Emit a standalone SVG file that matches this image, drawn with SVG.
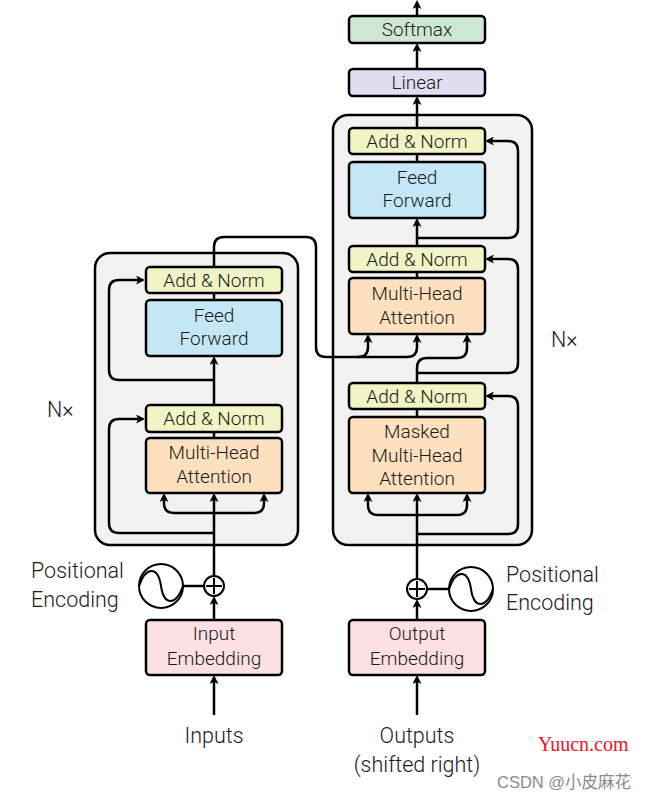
<svg xmlns="http://www.w3.org/2000/svg" width="648" height="800" viewBox="0 0 648 800">
<style>
.bg{fill:#ffffff}
.outer{fill:#f2f2f2;stroke:#000;stroke-width:2.5}
.box{stroke:#000;stroke-width:2.5}
.an{fill:#f1f4c4}
.ff{fill:#c4e7f6}
.mha{fill:#fde1be}
.emb{fill:#fde0e3}
.lin{fill:#dedff1}
.sm{fill:#cde8d2}
.t{font-family:Roboto,"Liberation Sans",sans-serif;font-weight:300;font-size:19px;fill:#1a1a1a;text-anchor:middle}
.lbl{font-family:Roboto,"Liberation Sans",sans-serif;font-weight:300;font-size:21.5px;fill:#1a1a1a}
.c{fill:none;stroke:#000;stroke-width:2.5}
.a{marker-end:url(#arr)}
.pe{fill:#fff;stroke:#000;stroke-width:2}
</style>
<defs>
<marker id="arr" viewBox="0 0 10 10" refX="5.5" refY="5" markerWidth="9" markerHeight="9" markerUnits="userSpaceOnUse" orient="auto">
<path d="M0,0 L10,5 L0,10 L2.5,5 Z" fill="#000"/>
</marker>
</defs>
<rect class="bg" x="0" y="0" width="648" height="800"/>

<g id="encoder-stack">
<rect class="outer" x="95" y="253" width="203" height="292" rx="15"/>
</g>
<g id="decoder-stack">
<rect class="outer" x="333" y="115" width="199" height="430" rx="15"/>
</g>

<g id="connectors">
<!-- encoder -->
<path class="c a" d="M214,715 V679"/>
<path class="c a" d="M214,620 V600"/>
<path class="c" d="M183,586 H204"/>
<path class="c a" d="M214,576 V497"/>
<path class="c a" d="M214,513 H174 Q164,513 164,503 V497"/>
<path class="c a" d="M214,513 H254 Q264,513 264,503 V497"/>
<path class="c a" d="M214,533 H119 Q109,533 109,523 V429 Q109,419 119,419 H141"/>
<path class="c" d="M214,432 V438"/>
<path class="c a" d="M214,405 V360"/>
<path class="c a" d="M214,380 H119 Q109,380 109,370 V290 Q109,280 119,280 H141"/>
<path class="c" d="M214,293 V300"/>
<path class="c a" d="M214,267 V247 Q214,237 224,237 H306 Q316,237 316,247 V347 Q316,357 326,357 H358 Q368,357 368,347 V338"/>
<path class="c a" d="M358,357 H407 Q417,357 417,347 V338"/>
<!-- decoder -->
<path class="c a" d="M417,715 V679"/>
<path class="c a" d="M417,620 V603"/>
<path class="c" d="M427,589 H449"/>
<path class="c a" d="M417,579 V497"/>
<path class="c a" d="M417,515 H378 Q368,515 368,505 V497"/>
<path class="c a" d="M417,515 H457 Q467,515 467,505 V497"/>
<path class="c a" d="M417,534 H508 Q518,534 518,524 V406 Q518,396 508,396 H489"/>
<path class="c" d="M417,409 V417"/>
<path class="c a" d="M417,383 V368 Q417,358 427,358 H457 Q467,358 467,348 V338"/>
<path class="c a" d="M417,373 H508 Q518,373 518,363 V269 Q518,259 508,259 H489"/>
<path class="c" d="M417,272 V278"/>
<path class="c a" d="M417,246 V222"/>
<path class="c a" d="M417,238 H508 Q518,238 518,228 V151 Q518,141 508,141 H489"/>
<path class="c" d="M417,154 V162"/>
<path class="c a" d="M417,128 V100"/>
<path class="c a" d="M417,69 V47"/>
<path class="c a" d="M417,16 V4"/>
</g>

<g id="enc-add-norm-2">
<rect class="box an" x="146" y="267" width="136" height="26" rx="4"/>
<text class="t" x="214" y="287">Add &amp; Norm</text>
</g>
<g id="enc-feed-forward">
<rect class="box ff" x="146" y="300" width="136" height="56" rx="4"/>
<text class="t" x="214" y="322">Feed</text>
<text class="t" x="214" y="345">Forward</text>
</g>
<g id="enc-add-norm-1">
<rect class="box an" x="146" y="405" width="136" height="27" rx="4"/>
<text class="t" x="214" y="425">Add &amp; Norm</text>
</g>
<g id="enc-mha">
<rect class="box mha" x="146" y="438" width="136" height="55" rx="4"/>
<text class="t" x="214" y="459">Multi-Head</text>
<text class="t" x="214" y="483">Attention</text>
</g>
<g id="input-embedding">
<rect class="box emb" x="146" y="620" width="136" height="55" rx="4"/>
<text class="t" x="214" y="640">Input</text>
<text class="t" x="214" y="665">Embedding</text>
</g>
<g id="enc-add">
<circle class="pe" cx="214" cy="586" r="10"/>
<path d="M214,578 V594 M206,586 H222" stroke="#000" stroke-width="2" fill="none"/>
</g>
<g id="enc-pos-enc">
<circle class="pe" cx="161" cy="586" r="22"/>
<path d="M139,586 C146,566 158,566 161,586 C164,606 176,606 183,586" fill="none" stroke="#000" stroke-width="2"/>
<text class="lbl" x="31" y="578">Positional</text>
<text class="lbl" x="31" y="607">Encoding</text>
</g>
<g id="enc-nx"><text class="lbl" x="47" y="417">N×</text></g>
<g id="inputs"><text class="lbl" x="214" y="743" text-anchor="middle">Inputs</text></g>

<g id="softmax">
<rect class="box sm" x="349" y="16" width="136" height="27" rx="4"/>
<text class="t" x="417" y="36">Softmax</text>
</g>
<g id="linear">
<rect class="box lin" x="349" y="69" width="136" height="27" rx="4"/>
<text class="t" x="417" y="89">Linear</text>
</g>
<g id="dec-add-norm-3">
<rect class="box an" x="349" y="128" width="136" height="26" rx="4"/>
<text class="t" x="417" y="148">Add &amp; Norm</text>
</g>
<g id="dec-feed-forward">
<rect class="box ff" x="349" y="162" width="136" height="56" rx="4"/>
<text class="t" x="417" y="184">Feed</text>
<text class="t" x="417" y="207">Forward</text>
</g>
<g id="dec-add-norm-2">
<rect class="box an" x="349" y="246" width="136" height="26" rx="4"/>
<text class="t" x="417" y="266">Add &amp; Norm</text>
</g>
<g id="dec-mha">
<rect class="box mha" x="349" y="278" width="136" height="56" rx="4"/>
<text class="t" x="417" y="300">Multi-Head</text>
<text class="t" x="417" y="324">Attention</text>
</g>
<g id="dec-add-norm-1">
<rect class="box an" x="349" y="383" width="136" height="26" rx="4"/>
<text class="t" x="417" y="403">Add &amp; Norm</text>
</g>
<g id="dec-masked-mha">
<rect class="box mha" x="349" y="417" width="136" height="76" rx="4"/>
<text class="t" x="417" y="438">Masked</text>
<text class="t" x="417" y="462">Multi-Head</text>
<text class="t" x="417" y="485">Attention</text>
</g>
<g id="output-embedding">
<rect class="box emb" x="349" y="620" width="136" height="55" rx="4"/>
<text class="t" x="417" y="640">Output</text>
<text class="t" x="417" y="665">Embedding</text>
</g>
<g id="dec-add">
<circle class="pe" cx="417" cy="589" r="10"/>
<path d="M417,581 V597 M409,589 H425" stroke="#000" stroke-width="2" fill="none"/>
</g>
<g id="dec-pos-enc">
<circle class="pe" cx="471" cy="589" r="22"/>
<path d="M449,589 C456,569 468,569 471,589 C474,609 486,609 493,589" fill="none" stroke="#000" stroke-width="2"/>
<text class="lbl" x="506" y="582">Positional</text>
<text class="lbl" x="506" y="610">Encoding</text>
</g>
<g id="dec-nx"><text class="lbl" x="551" y="347">N×</text></g>
<g id="outputs">
<text class="lbl" x="417" y="743" text-anchor="middle">Outputs</text>
<text class="lbl" x="417" y="772" text-anchor="middle">(shifted right)</text>
</g>

<g id="watermark">
<text x="538" y="751" font-family="'Liberation Serif',serif" font-size="20" fill="#f0142a">Yuucn.com</text>
<text x="497" y="788" font-family="'Liberation Sans','Noto Sans CJK SC',sans-serif" font-size="16.5" fill="#8a8a8a">CSDN @小皮麻花</text>
</g>
</svg>
